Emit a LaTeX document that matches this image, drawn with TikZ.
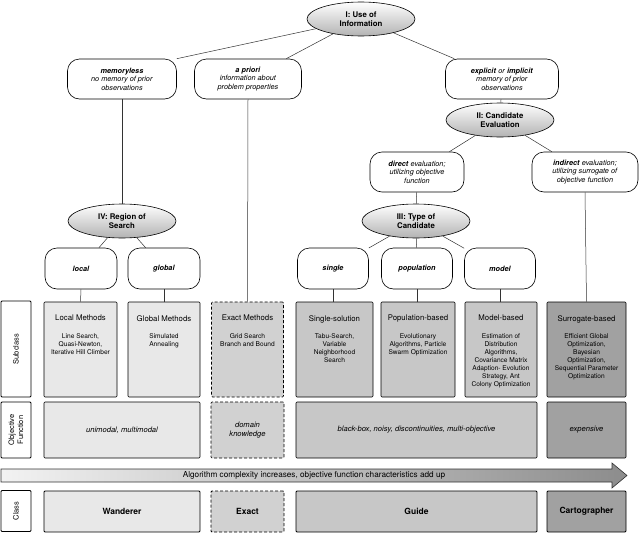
\documentclass[tikz,border=0pt]{standalone}
\usepackage{fontspec}
\setmainfont{TeX Gyre Heros}
\usetikzlibrary{shapes.geometric}
\begin{document}
\begin{tikzpicture}[x=1pt,y=-1pt,
  every node/.style={font=\fontsize{7.3}{8.6}\selectfont},
  ell/.style={ellipse,draw,line width=0.6pt,top color=white,bottom color=black!30,minimum width=108pt,minimum height=34pt,inner sep=0pt,align=center,font=\fontsize{7.8}{9}\selectfont},
  rr/.style={draw,rounded corners=12pt,fill=white,line width=0.6pt,align=center,inner sep=0pt},
  bx/.style={draw,line width=0.6pt,rounded corners=1pt,inner sep=0pt},
  lab/.style={draw,line width=0.9pt,rounded corners=1pt,inner sep=0pt,fill=white},
  ttl/.style={anchor=north,align=center,font=\fontsize{7.8}{9}\selectfont},
  dsc/.style={anchor=north,align=center,font=\fontsize{6.6}{8}\selectfont},
  cn/.style={line width=0.5pt,draw=black!80},
  c1/.style={fill=black!9},c2/.style={fill=black!18},c3/.style={fill=black!22},c4/.style={fill=black!37},
  dsh/.style={dashed,dash pattern=on 3pt off 2pt}]
\useasboundingbox (0,0) rectangle (640,533);
% tree
\node[ell] (I) at (361,19) {\textbf{I: Use of}\\\textbf{Information}};
\node[rr,minimum width=109pt,minimum height=40pt] (mem) at (122,79) {\textbf{\textit{memoryless}}\\\textit{no memory of prior}\\\textit{observations}};
\node[rr,minimum width=107pt,minimum height=40pt] (apr) at (248,79) {\textbf{\textit{a priori}}\\\textit{information about}\\\textit{problem properties}};
\node[rr,minimum width=113pt,minimum height=40pt] (exp) at (502,79) {\textbf{\textit{explicit}} \textit{or} \textbf{\textit{implicit}}\\\textit{memory of prior}\\\textit{observations}};
\node[ell] (II) at (500,120) {\textbf{II: Candidate}\\\textbf{Evaluation}};
\node[rr,minimum width=94pt,minimum height=40pt] (dir) at (417,172) {\textbf{\textit{direct}} \textit{evaluation;}\\\textit{utilizing objective}\\\textit{function}};
\node[rr,minimum width=106pt,minimum height=40pt] (ind) at (585,172) {\textbf{\textit{indirect}} \textit{evaluation;}\\\textit{utilizing surrogate of}\\\textit{objective function}};
\node[ell] (III) at (416,221) {\textbf{III: Type of}\\\textbf{Candidate}};
\node[ell] (IV) at (122,221) {\textbf{IV: Region of}\\\textbf{Search}};
\node[rr,minimum width=72pt,minimum height=41pt] (loc) at (81,268.5) {\textbf{\textit{local}}};
\node[rr,minimum width=72pt,minimum height=41pt] (glo) at (164,268.5) {\textbf{\textit{global}}};
\node[rr,minimum width=71pt,minimum height=41pt] (sin) at (333,268.5) {\textbf{\textit{single}}};
\node[rr,minimum width=71pt,minimum height=41pt] (pop) at (417,268.5) {\textbf{\textit{population}}};
\node[rr,minimum width=71pt,minimum height=41pt] (mod) at (500,268.5) {\textbf{\textit{model}}};
% row labels
\node[lab,minimum width=30pt,minimum height=96pt] (Lsub) at (16,349) {};
\node[rotate=90,font=\fontsize{7.5}{9}\selectfont] (Lsubt) at (Lsub) {Subclass};
\node[lab,minimum width=30pt,minimum height=56pt] (Lobj) at (16,430) {};
\node[rotate=90,align=center,font=\fontsize{7.5}{9}\selectfont] (Lobjt) at (Lobj) {Objective\\Function};
\node[lab,minimum width=30pt,minimum height=41pt] (Lcls) at (16,511) {};
\node[rotate=90,font=\fontsize{7.5}{9}\selectfont] (Lclst) at (Lcls) {Class};
% subclass boxes
\node[bx,c1,minimum width=73pt,minimum height=95pt] (bloc) at (80.5,349.5) {};
\node[ttl] (tloc) at ([yshift=-10pt]bloc.north) {Local Methods};
\node[dsc] (dloc) at ([yshift=-28pt]bloc.north) {Line Search,\\Quasi-Newton,\\Iterative Hill Climber};
\node[bx,c1,minimum width=72pt,minimum height=95pt] (bglo) at (164,349.5) {};
\node[ttl] (tglo) at ([yshift=-10pt]bglo.north) {Global Methods};
\node[dsc] (dglo) at ([yshift=-28pt]bglo.north) {Simulated\\Annealing};
\node[bx,c2,dsh,minimum width=72pt,minimum height=95pt] (bexa) at (247.5,349.5) {};
\node[ttl] (texa) at ([yshift=-10pt]bexa.north) {Exact Methods};
\node[dsc] (dexa) at ([yshift=-28pt]bexa.north) {Grid Search\\Branch and Bound};
\node[bx,c3,minimum width=77pt,minimum height=95pt] (bsin) at (334.5,349.5) {};
\node[ttl] (tsin) at ([yshift=-10pt]bsin.north) {Single-solution};
\node[dsc] (dsin) at ([yshift=-28pt]bsin.north) {Tabu-Search,\\Variable\\Neighborhood\\Search};
\node[bx,c3,minimum width=74pt,minimum height=95pt] (bpop) at (418,349.5) {};
\node[ttl] (tpop) at ([yshift=-10pt]bpop.north) {Population-based};
\node[dsc] (dpop) at ([yshift=-28pt]bpop.north) {Evolutionary\\Algorithms, Particle\\Swarm Optimization};
\node[bx,c3,minimum width=72pt,minimum height=95pt] (bmod) at (501,349.5) {};
\node[ttl] (tmod) at ([yshift=-10pt]bmod.north) {Model-based};
\node[dsc] (dmod) at ([yshift=-28pt]bmod.north) {Estimation of\\Distribution\\Algorithms,\\Covariance Matrix\\Adaption- Evolution\\Strategy, Ant\\Colony Optimization};
\node[bx,c4,minimum width=79pt,minimum height=95pt] (bsur) at (586.5,349.5) {};
\node[ttl] (tsur) at ([yshift=-10pt]bsur.north) {Surrogate-based};
\node[dsc] (dsur) at ([yshift=-28pt]bsur.north) {Efficient Global\\Optimization,\\Bayesian\\Optimization,\\Sequential Parameter\\Optimization};
% objective row
\node[bx,c1,minimum width=156pt,minimum height=56pt,font=\fontsize{7.6}{9}\selectfont\itshape] (ouni) at (122,430) {unimodal, multimodal};
\node[bx,c2,dsh,minimum width=73pt,minimum height=56pt,align=center,font=\fontsize{7.6}{9}\selectfont\itshape] (odom) at (247.5,430) {domain\\knowledge};
\node[bx,c3,minimum width=241pt,minimum height=56pt,font=\fontsize{7.6}{9}\selectfont\itshape] (obla) at (416.5,430) {black-box, noisy, discontinuities, multi-objective};
\node[bx,c4,minimum width=79pt,minimum height=56pt,font=\fontsize{7.6}{9}\selectfont\itshape] (oexp) at (586.5,430) {expensive};
% arrow
\shade[left color=black!5,right color=black!45,draw=black!80,line width=0.6pt] (1,469) -- (612,469) -- (612,463) -- (627,475.5) -- (612,488) -- (612,482) -- (1,482) -- cycle;
\node[font=\fontsize{8.2}{9}\selectfont] (arrt) at (314,475.5) {Algorithm complexity increases, objective function characteristics add up};
% class row
\node[bx,c1,line width=0.9pt,minimum width=156pt,minimum height=41pt,font=\fontsize{8.5}{10}\selectfont\bfseries] (cwan) at (122,511.5) {Wanderer};
\node[bx,c2,dsh,line width=0.9pt,minimum width=73pt,minimum height=41pt,font=\fontsize{8.5}{10}\selectfont\bfseries] (cexa) at (247.5,511.5) {Exact};
\node[bx,c3,line width=0.9pt,minimum width=241pt,minimum height=41pt,font=\fontsize{8.5}{10}\selectfont\bfseries] (cgui) at (416.5,511.5) {Guide};
\node[bx,c4,line width=0.9pt,minimum width=79pt,minimum height=41pt,font=\fontsize{8.5}{10}\selectfont\bfseries] (ccar) at (586.5,511.5) {Cartographer};
% connectors
\draw[cn] (I) -- (mem.north east);
\draw[cn] (I) -- (apr);
\draw[cn] (I) -- (exp);
\draw[cn] (exp) -- (II);
\draw[cn] (II) -- (dir);
\draw[cn] (II) -- (ind);
\draw[cn] (dir) -- (III);
\draw[cn] (III) -- (sin);
\draw[cn] (III) -- (pop);
\draw[cn] (III) -- (mod);
\draw[cn] (mem) -- (IV);
\draw[cn] (IV) -- (loc);
\draw[cn] (IV) -- (glo);
\draw[cn] (apr.south) -- (bexa.north);
\draw[cn] (ind.south) -- (bsur.north);
\draw[cn] (loc.south) -- (bloc.north);
\draw[cn] (glo.south) -- (bglo.north);
\draw[cn] (sin.south) -- (sin.south |- bsin.north);
\draw[cn] (pop.south) -- (pop.south |- bpop.north);
\draw[cn] (mod.south) -- (mod.south |- bmod.north);
\end{tikzpicture}
\end{document}
